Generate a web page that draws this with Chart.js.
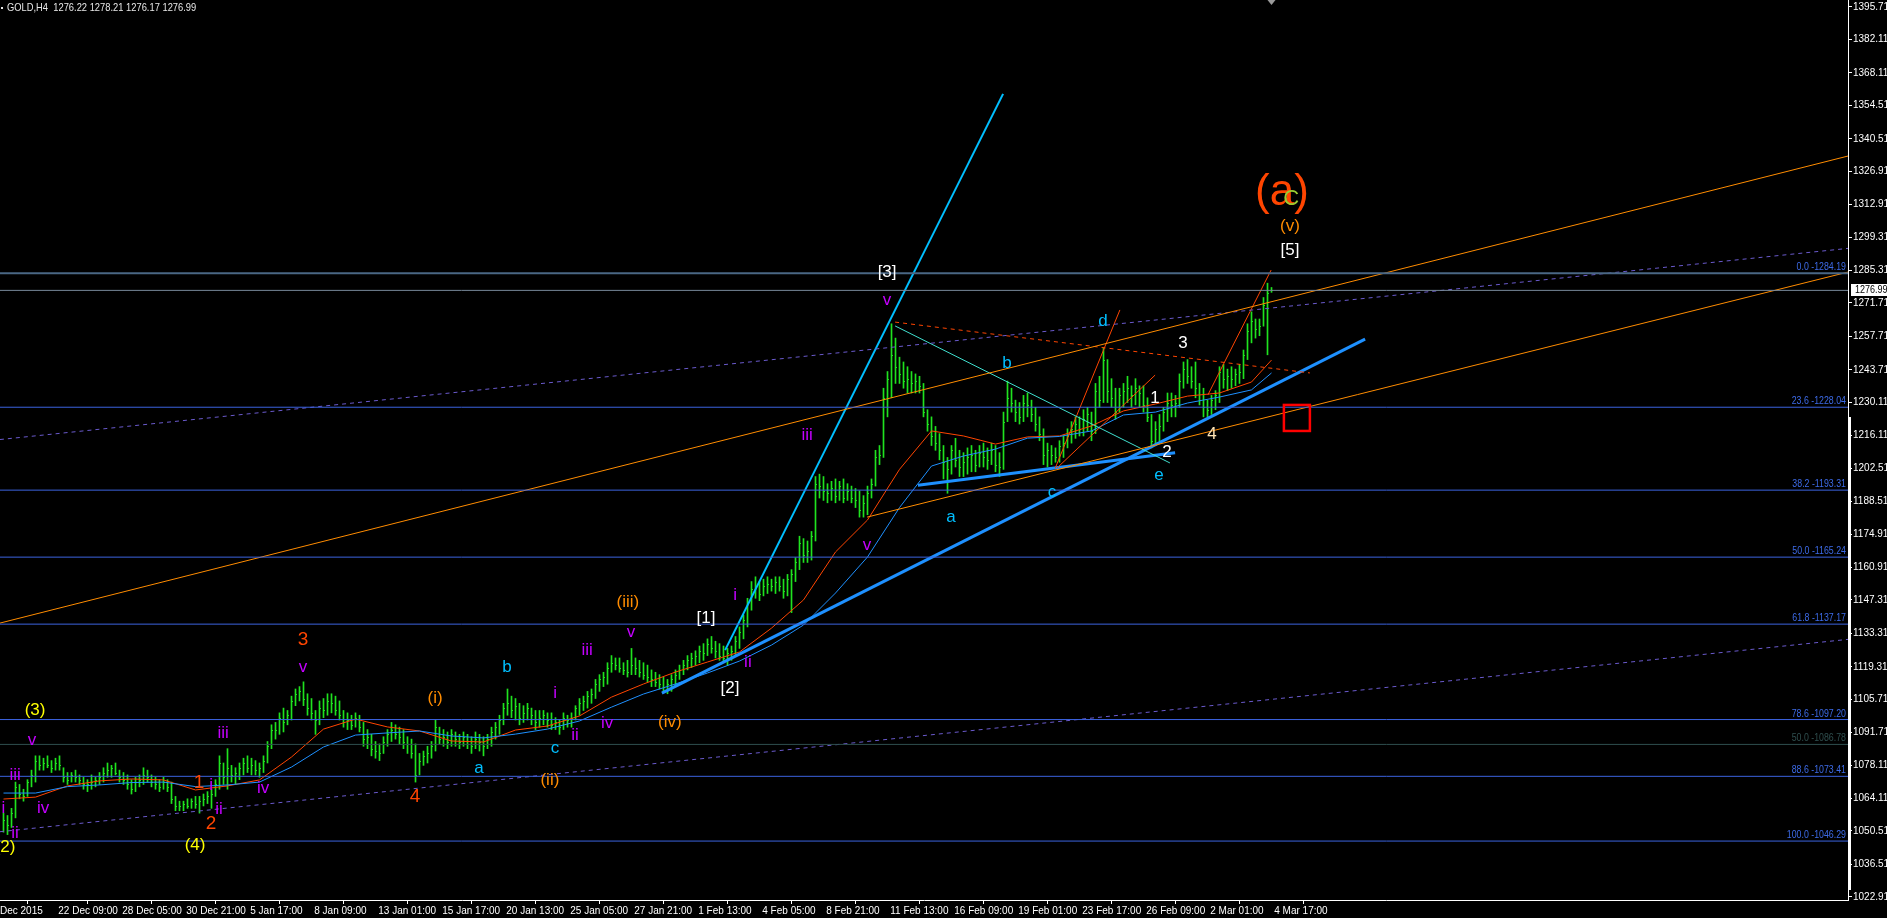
<!DOCTYPE html>
<html>
<head>
<meta charset="utf-8">
<script src="https://cdn.jsdelivr.net/npm/chart.js@4.4.1/dist/chart.umd.min.js"></script>
<style>
  html, body { margin: 0; padding: 0; background: #000; overflow: hidden; }
  canvas { display: block; }
</style>
</head>
<body>
<canvas id="chart" width="1887" height="918"></canvas>
<script>
// GOLD H4 bars (bar index 0 = leftmost visible bar)
var barHigh = [
  1058,1057,1060,1071,1070,1068,1072,1076,1082,1082, 1081,1082,1080,1081,1082,1077,1075,1075,1076,1074,
  1073,1072,1074,1073,1075,1077,1079,1078,1079,1076, 1075,1074,1072,1073,1074,1077,1076,1074,1073,1072,
  1073,1072,1071,1065,1063,1063,1064,1064,1065,1065, 1066,1067,1068,1072,1082,1079,1085,1078,1077,1079,
  1081,1082,1081,1080,1079,1082,1088,1095,1096,1100, 1102,1101,1107,1110,1111,1113,1108,1106,1101,1105,
  1106,1108,1108,1107,1105,1101,1100,1099,1100,1099, 1096,1093,1091,1088,1087,1090,1093,1096,1095,1094,
  1093,1090,1089,1087,1083,1084,1086,1088,1097,1094, 1093,1092,1093,1092,1091,1092,1091,1090,1092,1091,
  1090,1091,1094,1096,1099,1104,1110,1107,1106,1104, 1103,1104,1102,1101,1101,1101,1100,1100,1098,1097,
  1100,1099,1100,1103,1106,1107,1109,1110,1114,1116, 1117,1121,1124,1123,1123,1121,1122,1127,1123,1122,
  1121,1120,1118,1117,1116,1115,1114,1116,1118,1120, 1122,1124,1125,1126,1128,1129,1131,1132,1130,1129,
  1128,1127,1128,1132,1136,1141,1148,1155,1157,1155, 1156,1157,1156,1157,1157,1156,1158,1160,1165,1174,
  1173,1172,1176,1199,1200,1199,1196,1197,1198,1197, 1198,1196,1195,1194,1193,1191,1195,1198,1210,1212,
  1236,1243,1263,1257,1249,1247,1245,1243,1242,1241, 1238,1227,1224,1220,1217,1212,1207,1212,1215,1210,
  1209,1211,1212,1210,1212,1213,1211,1213,1212,1209, 1226,1239,1236,1231,1230,1233,1234,1231,1228,1224,
  1219,1213,1212,1211,1214,1216,1219,1222,1224,1224, 1227,1228,1226,1238,1241,1253,1248,1240,1236,1236,
  1238,1241,1237,1240,1237,1237,1232,1225,1222,1225, 1228,1234,1234,1233,1242,1247,1248,1245,1247,1238,
  1236,1231,1233,1235,1245,1246,1244,1245,1244,1246, 1252,1263,1268,1265,1265,1274,1280,1278.21
];
var barLow = [
  1050,1049,1052,1056,1064,1063,1065,1069,1071,1076, 1076,1077,1075,1076,1076,1071,1070,1071,1071,1070,
  1068,1067,1068,1069,1070,1071,1073,1073,1074,1071, 1070,1068,1066,1067,1069,1070,1071,1069,1068,1067,
  1068,1067,1062,1059,1059,1059,1060,1060,1060,1058, 1061,1062,1060,1065,1068,1070,1068,1071,1070,1072,
  1074,1075,1074,1074,1073,1075,1079,1085,1089,1091, 1092,1095,1097,1103,1105,1103,1099,1097,1091,1095,
  1098,1099,1100,1099,1097,1094,1093,1093,1094,1092, 1086,1085,1082,1081,1080,1083,1086,1088,1089,1087,
  1085,1083,1081,1071,1074,1078,1079,1081,1084,1087, 1086,1085,1086,1086,1085,1086,1085,1083,1085,1084,
  1082,1085,1086,1089,1091,1095,1099,1098,1097,1095, 1096,1097,1095,1093,1094,1095,1094,1093,1093,1091,
  1093,1094,1094,1097,1099,1101,1102,1104,1106,1109, 1111,1112,1117,1118,1117,1116,1115,1116,1116,1115,
  1114,1113,1111,1111,1110,1109,1108,1109,1111,1114, 1116,1118,1119,1120,1121,1122,1124,1125,1123,1122,
  1121,1120,1122,1124,1127,1131,1136,1143,1148,1147, 1149,1150,1151,1150,1151,1148,1149,1142,1155,1160,
  1163,1163,1164,1172,1190,1189,1188,1189,1188,1189, 1188,1189,1188,1186,1182,1182,1183,1190,1195,1204,
  1207,1224,1232,1238,1238,1236,1234,1234,1234,1234, 1224,1218,1212,1210,1206,1198,1192,1200,1203,1199,
  1199,1200,1201,1201,1203,1203,1202,1204,1201,1199, 1202,1222,1226,1222,1221,1222,1224,1222,1218,1214,
  1204,1203,1204,1205,1205,1207,1211,1213,1215,1216, 1216,1218,1214,1217,1228,1230,1230,1228,1223,1226,
  1228,1230,1228,1229,1228,1226,1222,1211,1212,1214, 1218,1222,1224,1224,1228,1236,1238,1236,1232,1229,
  1224,1224,1225,1227,1230,1236,1235,1236,1237,1238, 1240,1248,1255,1257,1258,1262,1250,1276.17
];
var barClose = [
  1055,1053,1058,1069,1066,1065,1071,1074,1080,1078, 1079,1078,1077,1079,1078,1073,1072,1074,1073,1072,
  1070,1070,1071,1072,1073,1075,1076,1077,1075,1073, 1072,1070,1068,1071,1072,1074,1073,1071,1070,1069,
  1071,1069,1064,1061,1061,1062,1061,1063,1062,1063, 1064,1065,1066,1070,1079,1073,1077,1074,1075,1077,
  1079,1077,1078,1076,1077,1080,1086,1093,1093,1098, 1096,1099,1105,1108,1109,1106,1102,1100,1097,1102,
  1101,1105,1104,1101,1099,1096,1097,1095,1098,1094, 1089,1090,1085,1084,1083,1088,1091,1093,1091,1090,
  1088,1087,1083,1074,1080,1082,1083,1086,1094,1089, 1090,1088,1091,1089,1088,1090,1087,1086,1089,1088,
  1086,1089,1092,1094,1097,1102,1104,1101,1103,1098, 1100,1102,1099,1096,1098,1099,1097,1095,1096,1094,
  1098,1097,1098,1102,1104,1105,1107,1108,1112,1114, 1115,1119,1121,1120,1119,1118,1117,1120,1119,1117,
  1116,1115,1114,1113,1112,1111,1112,1114,1116,1118, 1120,1122,1123,1124,1126,1125,1129,1127,1126,1124,
  1123,1125,1126,1130,1134,1139,1146,1152,1153,1150, 1153,1154,1153,1155,1153,1151,1156,1158,1163,1171,
  1166,1168,1174,1196,1195,1193,1192,1194,1191,1195, 1190,1193,1190,1189,1185,1188,1192,1196,1207,1208,
  1232,1240,1250,1245,1242,1239,1240,1238,1239,1237, 1226,1221,1216,1213,1210,1205,1202,1210,1206,1203,
  1205,1207,1208,1204,1209,1207,1206,1210,1204,1203, 1222,1232,1230,1226,1224,1230,1229,1225,1221,1217,
  1208,1210,1208,1207,1212,1213,1216,1219,1221,1219, 1223,1225,1218,1235,1231,1248,1235,1232,1226,1233,
  1235,1236,1233,1236,1234,1229,1224,1214,1219,1220, 1226,1230,1229,1230,1239,1244,1241,1239,1236,1231,
  1228,1227,1231,1233,1243,1240,1241,1240,1242,1243, 1250,1260,1264,1261,1262,1271,1276,1276.99
];

// two moving averages, read every 8 bars
var maBars = [0,8,16,24,32,40,48,56,64,72,80,88,96,104,112,120,128,136,144,152,160,168,176,184,192,200,208,216,224,232,240,248,256,264,272,280,288,296,304,312,317];
var maFast = [1063.9,1064.7,1069.4,1071.5,1072.3,1071.9,1067.7,1069.4,1071.9,1081.5,1093.2,1097.4,1094.1,1092.4,1088.2,1087.8,1092.8,1094.5,1098.7,1106.6,1112.1,1117.1,1121.3,1125.5,1135.5,1147.3,1167.4,1180.8,1202.0,1218.1,1216.0,1212.6,1215.6,1216.0,1220.2,1226.5,1229.4,1232.7,1234.0,1238.6,1247.8];
var maSlow = [1066.4,1066.4,1069.1,1069.8,1070.8,1071.0,1069.1,1069.8,1071.0,1077.3,1085.7,1090.7,1091.6,1092.4,1090.3,1089.5,1091.1,1093.2,1096.6,1102.4,1107.9,1112.1,1116.7,1121.7,1128.4,1136.8,1150.2,1165.3,1186.0,1203.4,1207.6,1210.5,1215.1,1215.8,1218.1,1224.8,1226.0,1229.8,1232.3,1235.3,1242.4];

// fibonacci levels
var fibNames = ['0.0','23.6','38.2','50.0','61.8','78.6','88.6','100.0'];
var fibPrices = [1284.19,1228.04,1193.31,1165.24,1137.17,1097.20,1073.41,1046.29];
var fib2Name = '50.0';
var fib2Price = 1086.78;
var bidPrice = 1276.99;

// axis ticks
var priceTicks = [1395.71,1382.11,1368.11,1354.51,1340.51,1326.91,1312.91,1299.31,1285.31,1271.71,1257.71,1243.71,1230.11,1216.11,1202.51,1188.51,1174.91,1160.91,1147.31,1133.31,1119.31,1105.71,1091.71,1078.11,1064.11,1050.51,1036.51,1022.91];
var timeTickBars = [13,29,45,61,77,93,109,125,141,157,173,189,205,221,237,253,269,285,301,317];
var timeTickNames = ['22 Dec 09:00','28 Dec 05:00','30 Dec 21:00','5 Jan 17:00','8 Jan 09:00','13 Jan 01:00','15 Jan 17:00','20 Jan 13:00','25 Jan 05:00','27 Jan 21:00','1 Feb 13:00','4 Feb 05:00','8 Feb 21:00','11 Feb 13:00','16 Feb 09:00','19 Feb 01:00','23 Feb 17:00','26 Feb 09:00','2 Mar 01:00','4 Mar 17:00'];

// trend lines: [bar, price] -> [bar, price]
var channelUpper = [[-0.9, 1137.6], [461.2, 1333.3]];
var channelLower = [[215.9, 1182.0], [461.2, 1284.7]];
var dotUpper = [[-0.9, 1214.5], [461.2, 1294.6]];
var dotLower = [[-0.9, 1050.2], [461.2, 1130.8]];
var steepLine = [[180.4, 1126.3], [249.9, 1359.3]];
var baseLine = [[164.6, 1108.3], [340.4, 1256.6]];
var triLow = [[228.6, 1195.4], [292.9, 1209.0]];
var triHigh = [[222.9, 1262.1], [291.6, 1204.7]];
var dashRed = [[222.9, 1263.7], [326.6, 1242.4]];
var redA = [[262.9, 1202.4], [279.1, 1268.8]];
var redB = [[263.4, 1202.6], [287.9, 1241.5]];
var redC = [[301.1, 1233.2], [316.9, 1285.5]];

// wave labels: text, bar, price, colour key, size
var waveLabels = [
  ['(2)', 0.4, 1043.8, 'Y', 17], ['ii', 2.9, 1049.6, 'M', 17], ['i', 0.0, 1060.1, 'M', 17],
  ['iii', 2.9, 1074.0, 'M', 17], ['iv', 9.9, 1060.1, 'M', 17], ['v', 7.1, 1088.6, 'M', 17],
  ['(3)', 7.9, 1101.2, 'Y', 17], ['iii', 54.9, 1091.6, 'M', 17], ['1', 48.9, 1070.6, 'R', 19],
  ['i', 51.9, 1069.8, 'M', 17], ['ii', 53.9, 1059.7, 'M', 17], ['2', 51.9, 1053.4, 'R', 19],
  ['(4)', 47.9, 1044.6, 'Y', 17], ['iv', 64.9, 1068.5, 'M', 17], ['3', 74.9, 1130.5, 'R', 19],
  ['v', 74.9, 1119.2, 'M', 17], ['4', 102.9, 1064.7, 'R', 19], ['(i)', 107.9, 1106.2, 'O', 17],
  ['a', 118.9, 1076.9, 'B', 17], ['b', 125.9, 1119.2, 'B', 17], ['c', 137.9, 1085.3, 'B', 17],
  ['(ii)', 136.6, 1071.9, 'O', 17], ['i', 137.9, 1108.3, 'M', 17], ['ii', 142.9, 1090.7, 'M', 17],
  ['iii', 145.9, 1126.3, 'M', 17], ['iv', 150.9, 1095.7, 'M', 17], ['v', 156.9, 1133.9, 'M', 17],
  ['(iii)', 156.1, 1146.4, 'O', 17], ['(iv)', 166.6, 1096.2, 'O', 17], ['[1]', 175.6, 1139.7, 'W', 17],
  ['[2]', 181.6, 1110.4, 'W', 17], ['i', 182.9, 1149.4, 'M', 17], ['ii', 186.1, 1121.3, 'M', 17],
  ['iii', 200.9, 1216.4, 'M', 17], ['v', 215.9, 1170.3, 'M', 17], ['[3]', 220.9, 1284.7, 'W', 17],
  ['v', 220.9, 1272.9, 'M', 17], ['a', 236.9, 1182.0, 'B', 17], ['b', 250.9, 1246.6, 'B', 17],
  ['c', 262.1, 1192.5, 'B', 17], ['d', 274.9, 1264.2, 'B', 17], ['e', 288.9, 1199.6, 'B', 17],
  ['1', 287.9, 1231.9, 'W', 17], ['2', 290.9, 1209.3, 'W', 17], ['3', 294.9, 1255.0, 'W', 17],
  ['4', 302.1, 1216.8, 'K', 17], ['(a)', 319.6, 1317.8, 'R', 44], ['C', 321.9, 1315.3, 'G', 22],
  ['(v)', 321.6, 1304.0, 'O', 17], ['[5]', 321.6, 1293.9, 'W', 17]
];
var labelColours = { Y: '#ffff00', M: '#c400ff', R: '#ff4500', O: '#ff8c00', B: '#00bfff', W: '#ffffff', K: '#ffe4b5', G: '#9acd32' };

// target box: bars and prices of its corners
var targetBox = [320.1, 1229.0, 326.6, 1218.1];

var FONT = '"Liberation Sans", Arial, sans-serif';
var barColour = '#1fe21f';

function seg(pts, colour, width, dash) {
  return {
    type: 'line',
    data: pts.map(function (p) { return { x: p[0], y: p[1] }; }),
    borderColor: colour,
    borderWidth: width,
    borderDash: dash || [],
    pointRadius: 0,
    clip: 0,
    order: 1
  };
}

// narrow text, like the terminal's small font
function narrowText(ctx, text, x, y, squeeze) {
  ctx.save();
  ctx.translate(x, y);
  ctx.scale(squeeze, 1);
  ctx.fillText(text, 0, 0);
  ctx.restore();
}

var datasets = [];
datasets.push({
  type: 'bar',
  data: barHigh.map(function (h, i) { return { x: i, y: [barLow[i], h] }; }),
  backgroundColor: barColour,
  borderWidth: 0,
  barThickness: 1,
  grouped: false,
  order: 10
});
fibPrices.forEach(function (p, k) {
  datasets.push(seg([[-2, p], [470, p]], k === 0 ? '#4a6785' : '#3b63df', k === 0 ? 2 : 1));
});
datasets.push(seg([[-2, fib2Price], [470, fib2Price]], '#2f4f4f', 1));
datasets.push(seg([[-2, bidPrice], [470, bidPrice]], '#778899', 1));
datasets.push(seg(channelUpper, '#ff8c00', 1));
datasets.push(seg(channelLower, '#ff8c00', 1));
datasets.push(seg(dotUpper, '#6a5acd', 1, [4, 4]));
datasets.push(seg(dotLower, '#6a5acd', 1, [4, 4]));
datasets.push(seg(dashRed, '#ff4500', 1, [4, 4]));
datasets.push(seg(triHigh, '#40e0d0', 1));
datasets.push(seg(redA, '#ff4500', 1));
datasets.push(seg(redB, '#ff4500', 1));
datasets.push(seg(redC, '#ff4500', 1));
datasets.push({
  type: 'line',
  data: maBars.map(function (b, i) { return { x: b, y: maSlow[i] }; }),
  borderColor: '#1e90ff', borderWidth: 1, pointRadius: 0, clip: 0, order: 2
});
datasets.push({
  type: 'line',
  data: maBars.map(function (b, i) { return { x: b, y: maFast[i] }; }),
  borderColor: '#ff4500', borderWidth: 1, pointRadius: 0, clip: 0, order: 2
});
datasets.push(seg(steepLine, '#00bfff', 2));
datasets.push(seg(baseLine, '#1e90ff', 3));
datasets.push(seg(triLow, '#1e90ff', 3));

var overlay = {
  id: 'overlay',
  afterDatasetDraw: function (chart, args) {
    if (args.index !== 0) return;
    var ctx = chart.ctx, xs = chart.scales.x, ys = chart.scales.y;
    ctx.save();
    ctx.fillStyle = barColour;
    barClose.forEach(function (c, i) {
      var px = Math.round(xs.getPixelForValue(i) + 0.5);
      ctx.fillRect(px, Math.round(ys.getPixelForValue(c)), 1, 1);
    });
    ctx.restore();
  },
  afterDatasetsDraw: function (chart) {
    var ctx = chart.ctx, xs = chart.scales.x, ys = chart.scales.y, a = chart.chartArea;
    ctx.save();
    // fib labels
    ctx.font = '11px ' + FONT;
    ctx.textAlign = 'right';
    ctx.textBaseline = 'bottom';
    fibPrices.forEach(function (p, k) {
      ctx.fillStyle = '#3d6be8';
      narrowText(ctx, fibNames[k] + ' -' + p.toFixed(2), a.right - 2, Math.round(ys.getPixelForValue(p)) - 1, 0.8);
    });
    ctx.fillStyle = '#2f4f4f';
    narrowText(ctx, fib2Name + ' -' + fib2Price.toFixed(2), a.right - 2, Math.round(ys.getPixelForValue(fib2Price)) - 1, 0.8);

    // wave labels
    ctx.textAlign = 'center';
    ctx.textBaseline = 'middle';
    waveLabels.forEach(function (l) {
      ctx.font = l[4] + 'px ' + FONT;
      ctx.fillStyle = labelColours[l[3]];
      ctx.fillText(l[0], xs.getPixelForValue(l[1]), ys.getPixelForValue(l[2]));
    });

    // target box
    var x1 = xs.getPixelForValue(targetBox[0]), y1 = ys.getPixelForValue(targetBox[1]);
    var x2 = xs.getPixelForValue(targetBox[2]), y2 = ys.getPixelForValue(targetBox[3]);
    ctx.strokeStyle = '#ff0000';
    ctx.lineWidth = 2.5;
    ctx.strokeRect(x1, y1, x2 - x1, y2 - y1);

    // header text
    ctx.font = '11px ' + FONT;
    ctx.textAlign = 'left';
    ctx.fillStyle = '#e8e8e8';
    narrowText(ctx, 'GOLD,H4  1276.22 1278.21 1276.17 1276.99', 7, 8, 0.85);
    ctx.fillRect(1, 7, 2, 2);

    // shift marker on top
    var sx = xs.getPixelForValue(barClose.length - 1);
    ctx.fillStyle = '#9a9a9a';
    ctx.beginPath();
    ctx.moveTo(sx - 4, 0); ctx.lineTo(sx + 4, 0); ctx.lineTo(sx, 5); ctx.closePath();
    ctx.fill();

    // right scale thick segment
    ctx.fillStyle = '#ffffff';
    ctx.fillRect(a.right, 417, 3, 473);

    // bid price box
    var by = Math.round(ys.getPixelForValue(bidPrice));
    ctx.fillStyle = '#ffffff';
    ctx.fillRect(a.right + 3, by - 6, 40, 12);
    ctx.fillStyle = '#000000';
    ctx.font = '11px ' + FONT;
    ctx.textBaseline = 'middle';
    narrowText(ctx, bidPrice.toFixed(2), a.right + 7, by, 0.82);
    ctx.restore();
  }
};

new Chart(document.getElementById('chart'), {
  type: 'bar',
  data: { datasets: datasets },
  options: {
    responsive: false,
    devicePixelRatio: 1,
    animation: false,
    events: [],
    layout: { padding: 0, autoPadding: false },
    plugins: { legend: { display: false }, tooltip: { enabled: false } },
    scales: {
      x: {
        type: 'linear',
        position: 'bottom',
        min: -0.875,
        max: 461.125,
        offset: false,
        grid: { drawOnChartArea: false, drawTicks: true, tickLength: 4, color: '#ffffff' },
        border: { display: true, color: '#ffffff', width: 1 },
        ticks: {
          color: '#ffffff', font: { size: 10, family: FONT }, align: 'start',
          maxRotation: 0, autoSkip: false, padding: 1,
          callback: function (v) {
            if (v === -0.875) return 'Dec 2015';
            var k = timeTickBars.indexOf(v);
            return k < 0 ? '' : ' ' + timeTickNames[k];
          }
        },
        afterBuildTicks: function (s) {
          s.ticks = [{ value: -0.875 }].concat(timeTickBars.map(function (v) { return { value: v }; }));
        },
        afterFit: function (s) { s.height = 18; s.paddingLeft = 0; s.paddingRight = 0; }
      },
      y: {
        type: 'linear',
        position: 'right',
        min: 1021.60,
        max: 1398.64,
        grid: { drawOnChartArea: false, drawTicks: true, tickLength: 4, color: '#ffffff' },
        border: { display: true, color: '#ffffff', width: 1 },
        ticks: {
          color: '#ffffff', font: { size: 10, family: FONT }, padding: 1, autoSkip: false,
          callback: function (v) { return Number(v).toFixed(2); }
        },
        afterBuildTicks: function (s) {
          s.ticks = priceTicks.map(function (v) { return { value: v }; });
        },
        afterFit: function (s) { s.width = 39; s.paddingTop = 0; s.paddingBottom = 0; }
      }
    }
  },
  plugins: [overlay]
});
</script>
</body>
</html>
